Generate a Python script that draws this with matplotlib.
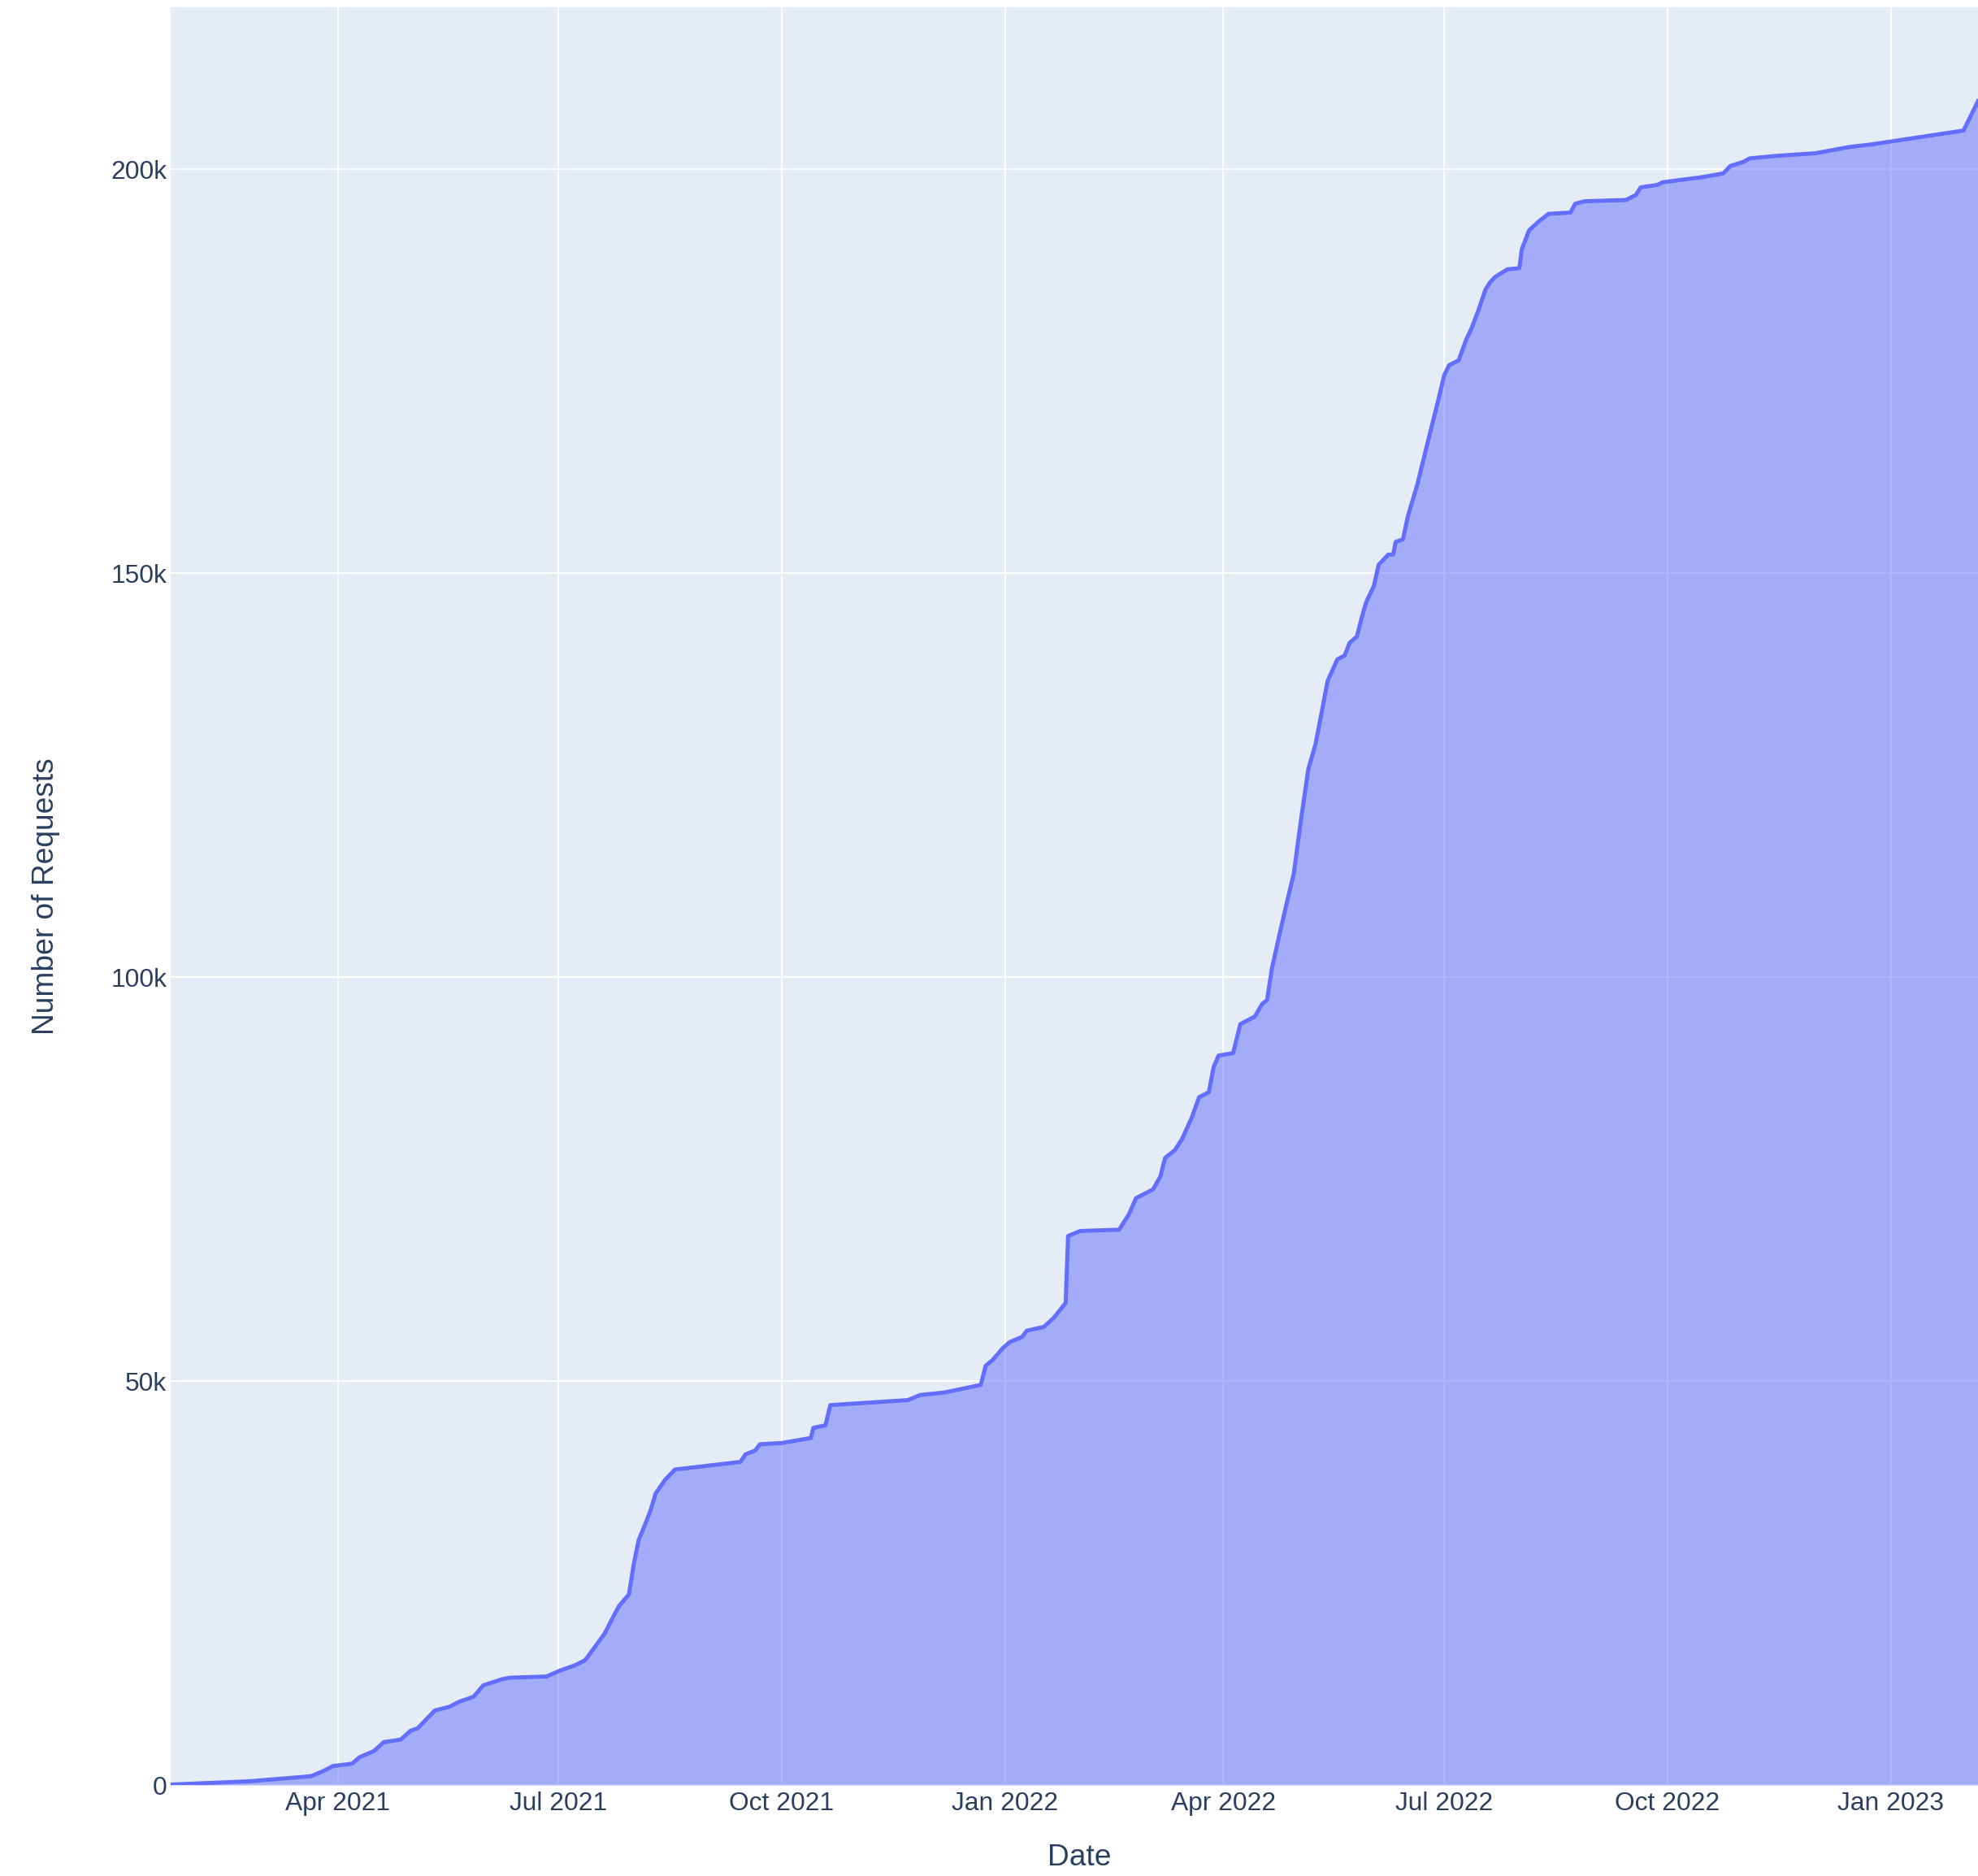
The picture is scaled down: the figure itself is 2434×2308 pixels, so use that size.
import matplotlib
matplotlib.use('Agg')
import matplotlib.pyplot as plt
import matplotlib.dates as mdates
import pandas as pd

# cumulative number of requests
dates = ['2021-01-22', '2021-02-24', '2021-03-21', '2021-03-26', '2021-03-30', '2021-04-07',
         '2021-04-10', '2021-04-16', '2021-04-20', '2021-04-27', '2021-05-01', '2021-05-04',
         '2021-05-11', '2021-05-17', '2021-05-21', '2021-05-27', '2021-05-31', '2021-06-08',
         '2021-06-11', '2021-06-26', '2021-07-02', '2021-07-08', '2021-07-12', '2021-07-20',
         '2021-07-24', '2021-07-26', '2021-07-30', '2021-08-01', '2021-08-03', '2021-08-06',
         '2021-08-08', '2021-08-10', '2021-08-14', '2021-08-18', '2021-09-14', '2021-09-16',
         '2021-09-20', '2021-09-22', '2021-10-01', '2021-10-13', '2021-10-14', '2021-10-19',
         '2021-10-21', '2021-11-22', '2021-11-27', '2021-12-07', '2021-12-22', '2021-12-24',
         '2021-12-27', '2021-12-31', '2022-01-03', '2022-01-08', '2022-01-10', '2022-01-17',
         '2022-01-21', '2022-01-26', '2022-01-27', '2022-02-01', '2022-02-17', '2022-02-21',
         '2022-02-24', '2022-03-03', '2022-03-06', '2022-03-08', '2022-03-12', '2022-03-15',
         '2022-03-19', '2022-03-22', '2022-03-26', '2022-03-28', '2022-03-30', '2022-04-05',
         '2022-04-08', '2022-04-14', '2022-04-17', '2022-04-19', '2022-04-21', '2022-04-24',
         '2022-04-27', '2022-04-30', '2022-05-03', '2022-05-06', '2022-05-09', '2022-05-11',
         '2022-05-14', '2022-05-18', '2022-05-21', '2022-05-23', '2022-05-26', '2022-05-28',
         '2022-05-30', '2022-06-02', '2022-06-04', '2022-06-08', '2022-06-10', '2022-06-11',
         '2022-06-14', '2022-06-16', '2022-06-20', '2022-06-25', '2022-06-28', '2022-07-01',
         '2022-07-03', '2022-07-07', '2022-07-10', '2022-07-12', '2022-07-15', '2022-07-18',
         '2022-07-20', '2022-07-22', '2022-07-27', '2022-08-01', '2022-08-02', '2022-08-05',
         '2022-08-09', '2022-08-13', '2022-08-22', '2022-08-24', '2022-08-28', '2022-09-14',
         '2022-09-18', '2022-09-20', '2022-09-27', '2022-09-29', '2022-10-15', '2022-10-24',
         '2022-10-27', '2022-11-01', '2022-11-04', '2022-11-15', '2022-12-01', '2022-12-15',
         '2022-12-24', '2023-01-31', '2023-02-06']

requests = [50, 470, 1090, 1720, 2340, 2650,
            3440, 4220, 5310, 5620, 6720, 7030,
            9220, 9680, 10300, 10930, 12340, 13120,
            13280, 13430, 14210, 14840, 15460, 18740,
            21090, 22180, 23590, 27330, 30300, 32490,
            34050, 36080, 37800, 39050, 39990, 40920,
            41390, 42170, 42330, 42950, 44200, 44520,
            47020, 47640, 48270, 48580, 49520, 51860,
            52640, 54040, 54830, 55450, 56230, 56700,
            57790, 59670, 67950, 68570, 68730, 70600,
            72630, 73720, 75290, 77630, 78570, 79970,
            82630, 85130, 85750, 88880, 90280, 90590,
            94180, 95120, 96680, 97150, 101060, 105120,
            109020, 112770, 119490, 125730, 128860, 131990,
            136670, 139330, 139800, 141360, 142140, 144480,
            146510, 148390, 151040, 152290, 152290, 153860,
            154170, 156980, 161040, 167130, 170720, 174470,
            175720, 176340, 178840, 180090, 182430, 185080,
            186020, 186650, 187590, 187740, 190080, 192430,
            193520, 194460, 194620, 195710, 196020, 196180,
            196800, 197740, 198050, 198370, 198990, 199460,
            200400, 200860, 201330, 201640, 201960, 202740,
            203050, 204770, 208400]

ytick_vals = [0, 50000, 100000, 150000, 200000]
ytick_labels = ['0', '50k', '100k', '150k', '200k']

df = pd.DataFrame({'date': pd.to_datetime(dates), 'requests': requests})

#-------------------------------------------------
# plotly-like look
text_col = '#2a3f5f'
line_col = '#636efa'
plt.rcParams['font.family'] = ['Liberation Sans', 'DejaVu Sans']

fig = plt.figure(figsize=(24.34, 23.08), dpi=100)
ax = fig.add_axes([0.0861, 0.0485, 0.9139, 0.9475])
ax.set_facecolor('#E5ECF6')
for s in ax.spines.values():
    s.set_visible(False)

ax.set_axisbelow(True)
ax.grid(True, color='white', linewidth=1.5)

ax.fill_between(df['date'], df['requests'], 0, color=line_col, alpha=0.5, linewidth=0)
ax.plot(df['date'], df['requests'], color=line_col, linewidth=3.6, solid_joinstyle='round')

ax.set_xlim(df['date'].iloc[0], df['date'].iloc[-1])
ax.set_ylim(0, 220000)

ax.xaxis.set_major_locator(mdates.MonthLocator(bymonth=[1, 4, 7, 10]))
ax.xaxis.set_major_formatter(mdates.DateFormatter('%b %Y'))
ax.set_yticks(ytick_vals)
ax.set_yticklabels(ytick_labels)

ax.tick_params(axis='x', length=0, pad=6, labelsize=22.9, labelcolor=text_col)
ax.tick_params(axis='y', length=0, pad=3, labelsize=22.9, labelcolor=text_col)

# axis titles, placed where the reference has them
ax.set_xlabel('Date', fontsize=26.7, color=text_col)
ax.xaxis.label.set_va('center')
ax.xaxis.set_label_coords(0.503, -0.041)
ax.set_ylabel('Number of Requests', fontsize=26.7, color=text_col)
ax.yaxis.label.set_va('center')
ax.yaxis.set_label_coords(-0.0686, 0.5)

fig.savefig('out.png', dpi=100, facecolor='white')
